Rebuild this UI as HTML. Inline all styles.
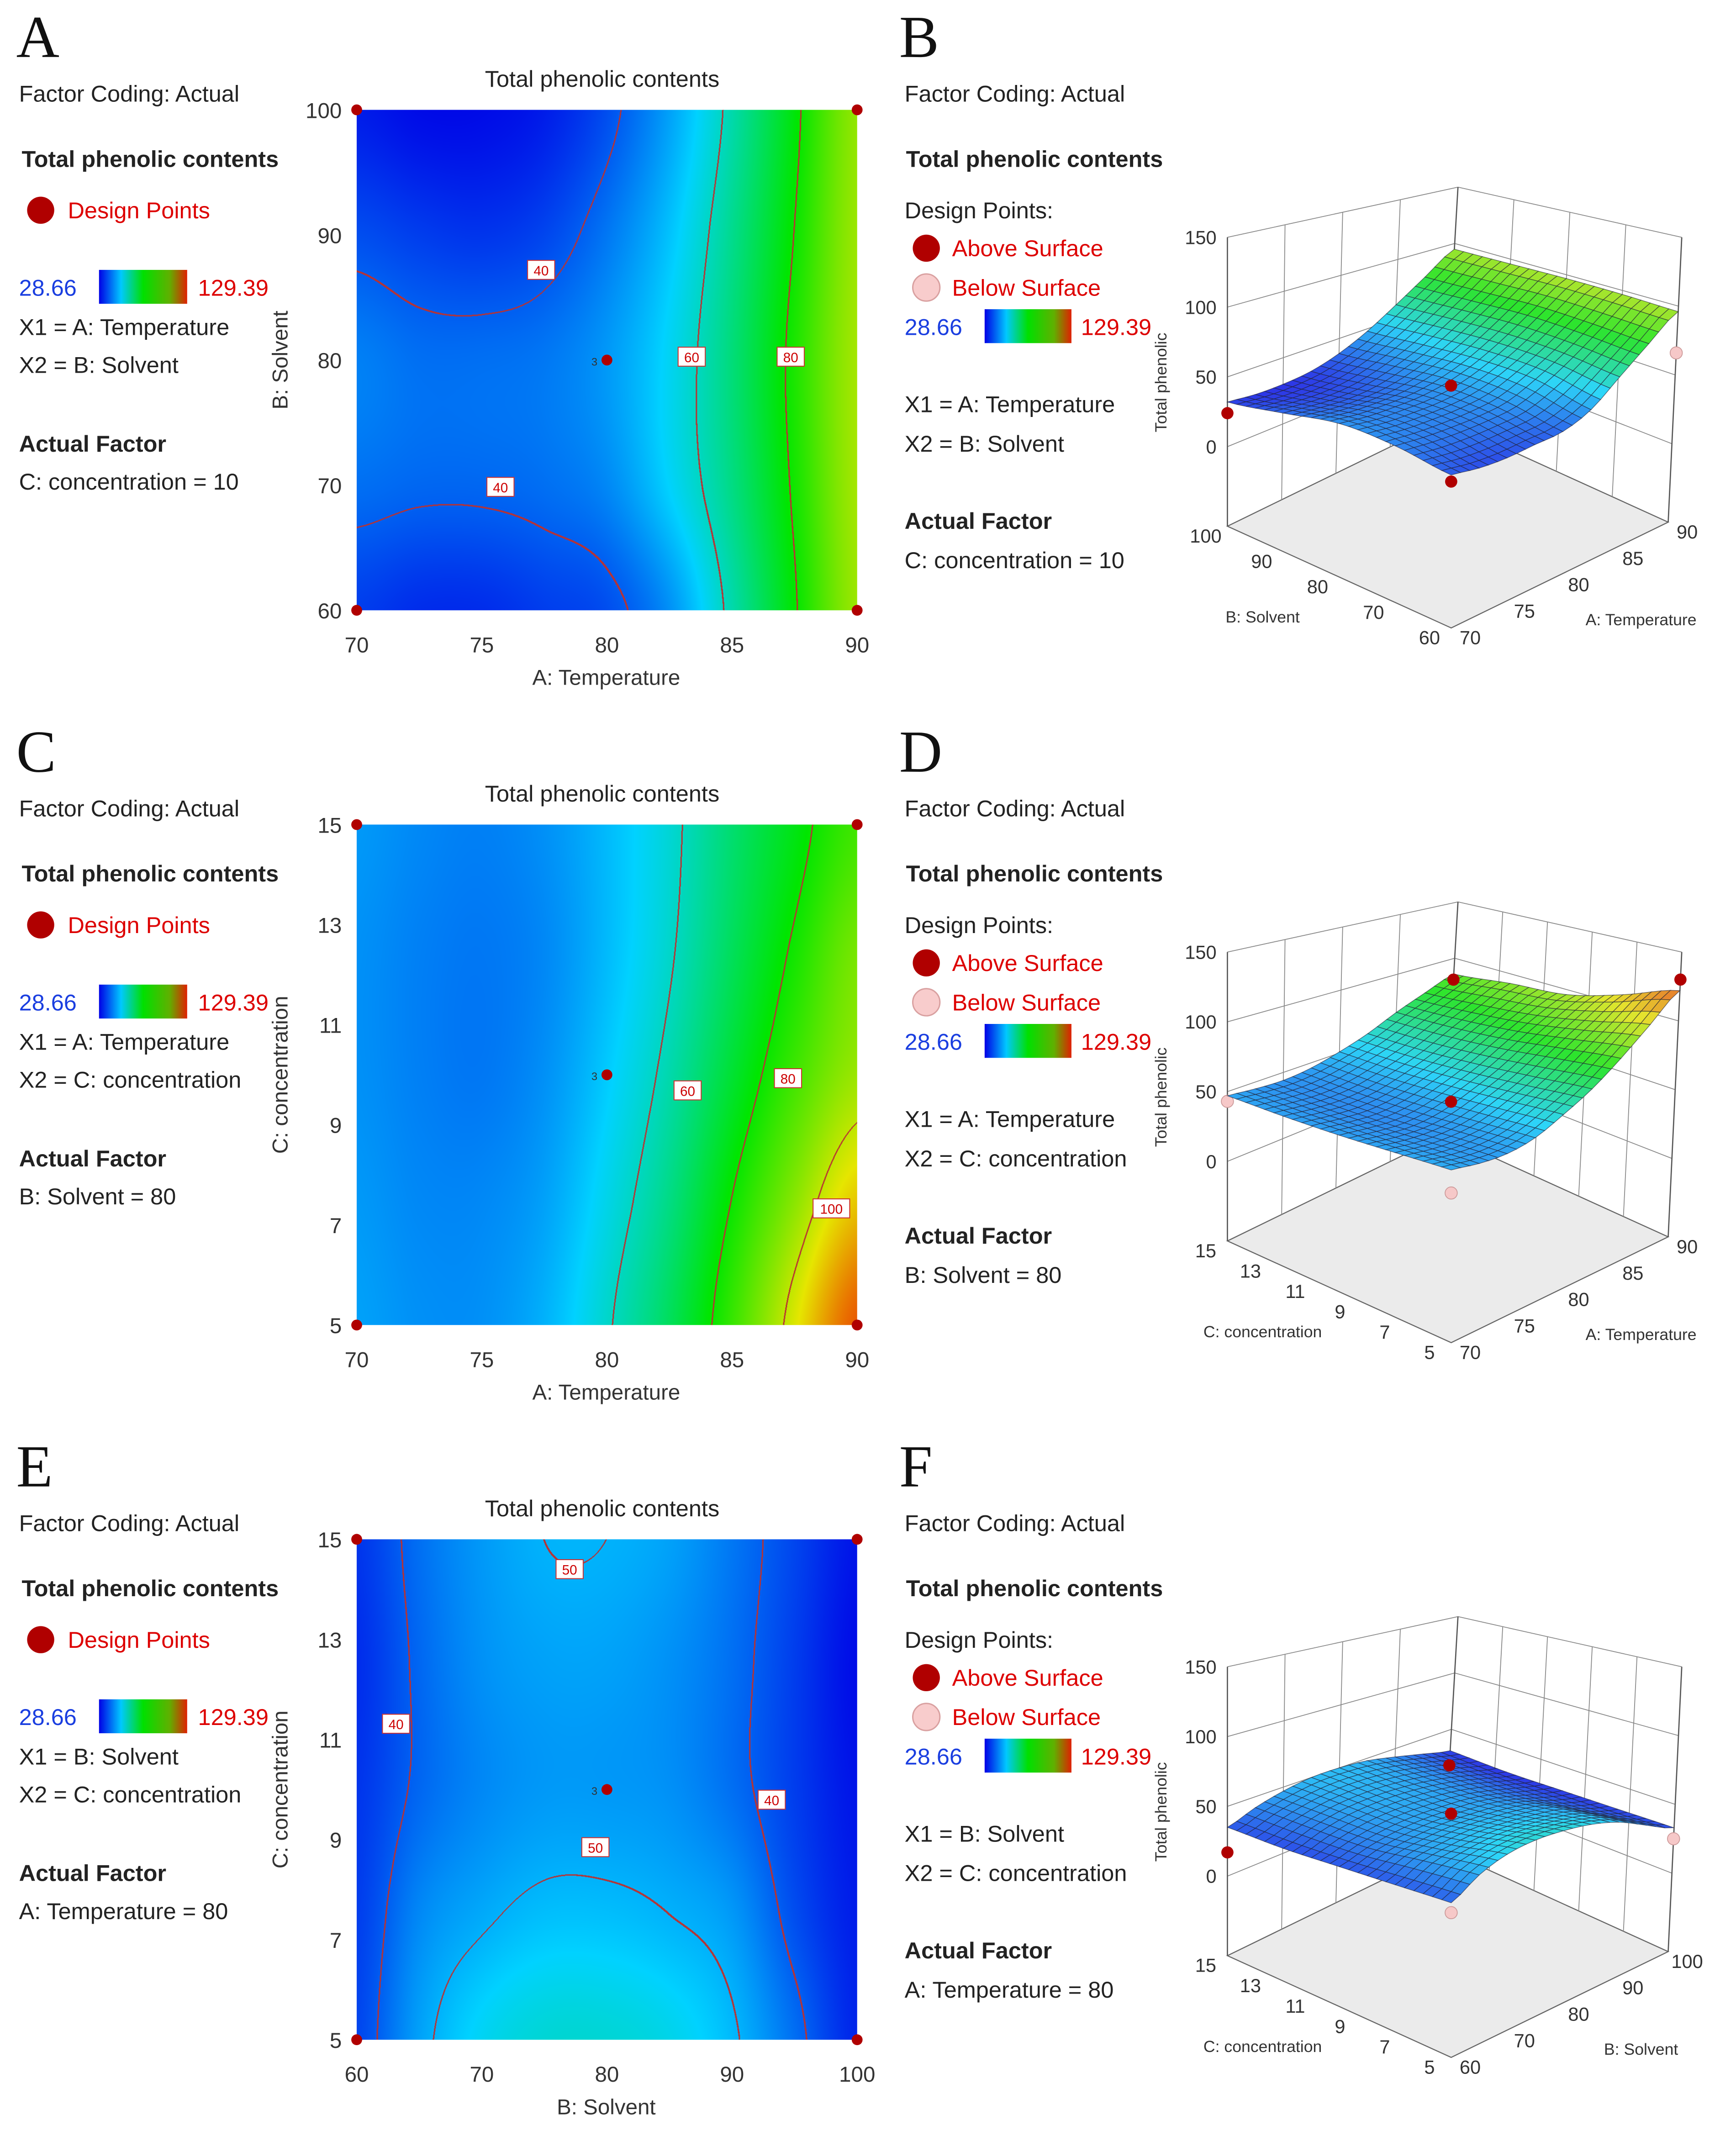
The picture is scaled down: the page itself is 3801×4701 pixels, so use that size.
<!DOCTYPE html>
<html><head><meta charset="utf-8"><style>
html,body{margin:0;padding:0;background:#fff;width:3801px;height:4700px;overflow:hidden}
#root{position:absolute;left:0;top:0;width:1280px;height:1583px;transform:scale(2.96953);transform-origin:0 0;background:#fff}
canvas{position:absolute}
svg{position:absolute;left:0;top:0}
text{font-family:"Liberation Sans",sans-serif}
.t{font-size:17px;fill:#222}
.b{font-size:17px;font-weight:bold;fill:#222}
.r{font-size:17px;fill:#d00}
.bl{font-size:17px;fill:#1a3ee0}
.L{font-family:"Liberation Serif",serif;font-size:44px;fill:#111}
.tk{font-size:16px;fill:#333}
.s{font-size:12px;fill:#333}
</style></head><body>
<div id="root">
<canvas id="cvA" width="1107" height="1107" style="left:263px;top:81px;width:369px;height:369px"></canvas>
<canvas id="cvC" width="1107" height="1107" style="left:263px;top:608px;width:369px;height:369px"></canvas>
<canvas id="cvE" width="1107" height="1107" style="left:263px;top:1135px;width:369px;height:369px"></canvas>
<svg id="svg" width="1280" height="1583" viewBox="0 0 1280 1583">
<defs><linearGradient id="cb" x1="0" x2="1"><stop offset="0" stop-color="#0000e6"/><stop offset="0.25" stop-color="#00c8ff"/><stop offset="0.5" stop-color="#00e000"/><stop offset="0.8" stop-color="#60b000"/><stop offset="1" stop-color="#e02000"/></linearGradient></defs>
<g id="legends"></g>
<g id="plots"></g>
</svg>
</div>
<script>
// ---- data ----
const gridA=[[32,30,30,32,38,48,62,78,95],[38,36,35,37,43,52,65,80,96],[44,42,42,43,47,55,67,82,97],[42,41,41,42,45,54,66,81,97],[36,34,34,36,38,46,62,79,96]];
const gridC=[[47,45,44,46,51,58,68,77,86],[46,44,43,45,51,59,70,81,92],[46,44,43,46,53,62,74,86,96],[47,45,45,48,56,66,80,94,108],[48,46,46,50,59,70,85,103,122]];
const gridE=[[35,42,47,50,50,48,43,37,31],[34,41,46,48,48,46,42,36,30],[35,41,45,47,47,46,42,36,31],[36,45,49,51.5,51.5,50,47,38,32],[37,48,55,58,58,56,51,42,33]];
const levelsA=[40,60,80], levelsC=[60,80,100], levelsE=[40,50];
const xTicksA=[70,75,80,85,90], yTicksA=[60,70,80,90,100];
const xTicksC=[70,75,80,85,90], yTicksC=[5,7,9,11,13,15];
const xTicksE=[60,70,80,90,100], yTicksE=[5,7,9,11,13,15];
const zTicks=[0,50,100,150];
const ptsB=[[0.5,0.5,43,1],[0,1,24,1],[0,0,32,1],[1,0,66,0]];
const ptsD=[[0.5,0.5,42,1],[1,1,81,1],[1,0,130,1],[0,1,43,0],[0,0,34,0]];
const ptsF=[[0,1,17,1],[1,1,18,1],[0.5,0.5,44,1],[1,0,25,0],[0,0,31,0]];
const VMIN=28.66, VMAX=129.39;

const NS="http://www.w3.org/2000/svg";
const plots=document.getElementById('plots');
function mk(tag,attrs,parent,txt){const e=document.createElementNS(NS,tag);for(const k in attrs)e.setAttribute(k,attrs[k]);if(txt!==undefined)e.textContent=txt;(parent||plots).appendChild(e);return e;}

function cr(p0,p1,p2,p3,t){return 0.5*(2*p1+(-p0+p2)*t+(2*p0-5*p1+4*p2-p3)*t*t+(-p0+3*p1-3*p2+p3)*t*t*t);}
function s1(a,f){const n=a.length;let x=f*(n-1);let i=Math.min(Math.floor(x),n-2);const t=x-i;const g=k=>a[Math.max(0,Math.min(n-1,k))];return cr(g(i-1),g(i),g(i+1),g(i+2),t);}
function field(grid,fx,fy){const col=grid.map(r=>s1(r,fx));return s1(col,fy);}
const stops=[[0,0,0,230],[0.25,0,210,255],[0.5,0,230,0],[0.75,230,230,0],[1,235,30,0]];
function cmap(v){let t=(v-VMIN)/(VMAX-VMIN);t=Math.max(0,Math.min(1,t));for(let i=0;i<stops.length-1;i++){const a=stops[i],b=stops[i+1];if(t<=b[0]){const u=(t-a[0])/(b[0]-a[0]);return [a[1]+(b[1]-a[1])*u,a[2]+(b[2]-a[2])*u,a[3]+(b[3]-a[3])*u];}}return [235,30,0];}

function heat(id,grid,levels){
 const c=document.getElementById(id),W=c.width,H=c.height,ctx=c.getContext('2d');
 const img=ctx.createImageData(W,H),F=new Float32Array(W*H);
 for(let x=0;x<W;x++){const col=grid.map(r=>s1(r,x/(W-1)));for(let y=0;y<H;y++)F[y*W+x]=s1(col,y/(H-1));}
 const d=img.data;
 for(let y=0;y<H;y++)for(let x=0;x<W;x++){const i=y*W+x,v=F[i];let [r,g,b]=cmap(v);
  let line=false;for(const L of levels){const a=v-L;if(x+3<W&&a*(F[i+3]-L)<0)line=true;if(y+3<H&&a*(F[i+3*W]-L)<0)line=true;}
  if(line){r=185;g=50;b=50;}
  d[i*4]=r;d[i*4+1]=g;d[i*4+2]=b;d[i*4+3]=255;}
 ctx.putImageData(img,0,0);
}
heat('cvA',gridA,levelsA);heat('cvC',gridC,levelsC);heat('cvE',gridE,levelsE);

// ---- 2D axes ----
function axes2D(oy,xt,yt,xtitle,ytitle,labels,title){
 const x0=263,x1=632,y0=oy,y1=oy+369;
 const sx=v=>x0+(v-xt[0])/(xt[xt.length-1]-xt[0])*(x1-x0);
 const sy=v=>y1-(v-yt[0])/(yt[yt.length-1]-yt[0])*(y1-y0);
 let e=mk('text',{x:444,y:oy-17,'text-anchor':'middle',class:'t'},plots,title);
 
 xt.forEach(v=>{const t=mk('text',{x:sx(v),y:y1+31,'text-anchor':'middle',class:'tk'},plots,v);
  });
 yt.forEach(v=>{const t=mk('text',{x:252,y:sy(v)+6,'text-anchor':'end',class:'tk'},plots,v);
  });
 e=mk('text',{x:447,y:y1+55,'text-anchor':'middle',class:'tk'},plots,xtitle);
 
 e=mk('text',{x:0,y:0,'text-anchor':'middle',class:'tk',transform:`translate(212,${(y0+y1)/2}) rotate(-90)`},plots,ytitle);
 
 [[x0,y0],[x1,y0],[x0,y1],[x1,y1]].forEach(p=>{const c=mk('circle',{cx:p[0],cy:p[1],r:4,fill:'#b00000'});
  });
 const c=mk('circle',{cx:(x0+x1)/2,cy:(y0+y1)/2,r:4,fill:'#b00000'});
 
 mk('text',{x:(x0+x1)/2-7,y:(y0+y1)/2+4,'text-anchor':'end',style:'font-size:8px;fill:#333'},plots,'3');
 labels.forEach(l=>{const w=l[2].length*7+6;const g=mk('g',{});
  mk('rect',{x:l[0]-w/2,y:oy+l[1]-7,width:w,height:14,fill:'#fff',stroke:'#c33','stroke-width':0.7},g);
  mk('text',{x:l[0],y:oy+l[1]+4,'text-anchor':'middle',style:'font-size:10px;fill:#c00'},g,l[2]);});
}
axes2D(81,xTicksA,yTicksA,'A: Temperature','B: Solvent',[[399,118,'40'],[369,278,'40'],[510,182,'60'],[583,182,'80']],'Total phenolic contents');
axes2D(608,xTicksC,yTicksC,'A: Temperature','C: concentration',[[507,196,'60'],[581,187,'80'],[613,283,'100']],'Total phenolic contents');
axes2D(1135,xTicksE,yTicksE,'B: Solvent','C: concentration',[[420,22,'50'],[292,136,'40'],[569,192,'40'],[439,227,'50']],'Total phenolic contents');

// ---- 3D (simple perspective: floor & top planes interpolated) ----
function P(oy,u,v,z){const s=(z+57)/207;
 const fy=463-251*s, udy=-78+41*s, vdy=-75+38*s, udx=160+10*s;
 return [1070+udx*u-165*v, oy+fy+udy*u+vdy*v];}
function plot3D(oy,grid,uT,vT,uTitle,vTitle,pts){
 const ZF=-57,ZT=150;const g=mk('g',{});
 const line=(a,b,w,c)=>mk('line',{x1:a[0],y1:a[1],x2:b[0],y2:b[1],stroke:c||'#888','stroke-width':w||0.6},g);
 mk('polygon',{points:[P(oy,0,0,ZF),P(oy,1,0,ZF),P(oy,1,1,ZF),P(oy,0,1,ZF)].map(p=>p.join(',')).join(' '),fill:'#ebebeb',stroke:'#666','stroke-width':0.8},g);
 for(let i=0;i<uT.length;i++){const u=i/(uT.length-1);line(P(oy,u,1,ZF),P(oy,u,1,ZT));}
 for(let i=0;i<vT.length;i++){const v=i/(vT.length-1);line(P(oy,1,v,ZF),P(oy,1,v,ZT));}
 zTicks.forEach(z=>{line(P(oy,0,1,z),P(oy,1,1,z));line(P(oy,1,1,z),P(oy,1,0,z));
  const p=P(oy,0,1,z);const t=mk('text',{x:p[0]-8,y:p[1]+5,'text-anchor':'end',class:'tk',style:'font-size:14px'},g,z);
  });
 line(P(oy,0,1,ZF),P(oy,0,1,ZT),0.9,'#555');line(P(oy,1,0,ZF),P(oy,1,0,ZT),0.9,'#555');line(P(oy,1,1,ZF),P(oy,1,1,ZT),0.9,'#555');
 uT.forEach((t,i)=>{const p=P(oy,i/(uT.length-1),0,ZF);const e=mk('text',{x:p[0]+14,y:p[1]+12,'text-anchor':'middle',class:'tk',style:'font-size:14px'},g,t);
  });
 vT.forEach((t,i)=>{const p=P(oy,0,i/(vT.length-1),ZF);const e=mk('text',{x:p[0]-16,y:p[1]+12,'text-anchor':'middle',class:'tk',style:'font-size:14px'},g,t);
  });
 let e=mk('text',{x:1210,y:oy+461,'text-anchor':'middle',class:'s'},g,uTitle);
 e=mk('text',{x:931,y:oy+459,'text-anchor':'middle',class:'s'},g,vTitle);
 e=mk('text',{x:0,y:0,'text-anchor':'middle',class:'s',transform:`translate(860,${oy+282}) rotate(-90)`},g,'Total phenolic');
 pts.filter(p=>!p[3]).forEach(p=>{const q=P(oy,p[0],p[1],p[2]);const c=mk('circle',{cx:q[0],cy:q[1],r:4.5,fill:'#f6c8c8',stroke:'#c99','stroke-width':0.6},g);
  });
 const N=24,quads=[];
 for(let i=0;i<N;i++)for(let j=0;j<N;j++)quads.push([i,j]);
 quads.sort((a,b)=>(b[0]+b[1])-(a[0]+a[1]));
 const val=(u,v)=>field(grid,u,1-v);
 quads.forEach(([i,j])=>{const u0=i/N,u1=(i+1)/N,v0=j/N,v1=(j+1)/N;
  const vs=[[u0,v0],[u1,v0],[u1,v1],[u0,v1]].map(a=>[a[0],a[1],val(a[0],a[1])]);
  const m=(vs[0][2]+vs[1][2]+vs[2][2]+vs[3][2])/4;let [r,gg,b]=cmap(m);r=r*0.8+45;gg=gg*0.8+45;b=b*0.8+45;
  const q=mk('polygon',{points:vs.map(a=>P(oy,a[0],a[1],a[2]).join(',')).join(' '),fill:`rgb(${r|0},${gg|0},${b|0})`,stroke:'rgba(30,30,50,0.6)','stroke-width':0.5},g);
  });
 pts.filter(p=>p[3]).forEach(p=>{const q=P(oy,p[0],p[1],p[2]);const c=mk('circle',{cx:q[0],cy:q[1],r:4.5,fill:'#b00000'},g);
  });
}
plot3D(0,gridA,xTicksA,yTicksA,'A: Temperature','B: Solvent',ptsB);
plot3D(527,gridC,xTicksC,yTicksC,'A: Temperature','C: concentration',ptsD);
plot3D(1054,gridE,xTicksE,yTicksE,'B: Solvent','C: concentration',ptsF);

// ---- legends ----
const leg=document.getElementById('legends');
function T(x,y,cls,s,name){const e=mk('text',{x:x,y:y,class:cls},leg,s);return e;}
function bar(x,y,w){const r=mk('rect',{x:x,y:y,width:w,height:25,fill:'url(#cb)'},leg);}
function left(oy,L,x1,x2,f){
 T(12,oy+42,'L',L,'panel-letter');T(14,oy+75,'t','Factor Coding: Actual','factor-coding');
 T(16,oy+123,'b','Total phenolic contents','response-name');
 const c=mk('circle',{cx:30,cy:oy+155,r:10,fill:'#b00000'},leg);
 T(50,oy+161,'r','Design Points','design-points-label');
 T(14,oy+218,'bl','28.66','color-min');bar(73,oy+199,65);T(146,oy+218,'r','129.39','color-max');
 T(14,oy+247,'t',x1,'x1-label');T(14,oy+275,'t',x2,'x2-label');
 T(14,oy+333,'b','Actual Factor','actual-factor-title');T(14,oy+361,'t',f,'actual-factor-value');
}
function right(oy,L,x1,x2,f){
 T(663,oy+42,'L',L,'panel-letter');T(667,oy+75,'t','Factor Coding: Actual','factor-coding');
 T(668,oy+123,'b','Total phenolic contents','response-name');T(667,oy+161,'t','Design Points:','design-points-title');
 let c=mk('circle',{cx:683,cy:oy+183,r:10,fill:'#b00000'},leg);
 T(702,oy+189,'r','Above Surface','above-surface-label');
 c=mk('circle',{cx:683,cy:oy+212,r:10,fill:'#f8cccc',stroke:'#d9a0a0'},leg);
 T(702,oy+218,'r','Below Surface','below-surface-label');
 T(667,oy+247,'bl','28.66','color-min');bar(726,oy+228,64);T(797,oy+247,'r','129.39','color-max');
 T(667,oy+304,'t',x1,'x1-label');T(667,oy+333,'t',x2,'x2-label');
 T(667,oy+390,'b','Actual Factor','actual-factor-title');T(667,oy+419,'t',f,'actual-factor-value');
}
left(0,'A','X1 = A: Temperature','X2 = B: Solvent','C: concentration = 10');
right(0,'B','X1 = A: Temperature','X2 = B: Solvent','C: concentration = 10');
left(527,'C','X1 = A: Temperature','X2 = C: concentration','B: Solvent = 80');
right(527,'D','X1 = A: Temperature','X2 = C: concentration','B: Solvent = 80');
left(1054,'E','X1 = B: Solvent','X2 = C: concentration','A: Temperature = 80');
right(1054,'F','X1 = B: Solvent','X2 = C: concentration','A: Temperature = 80');
</script>
</body></html>
